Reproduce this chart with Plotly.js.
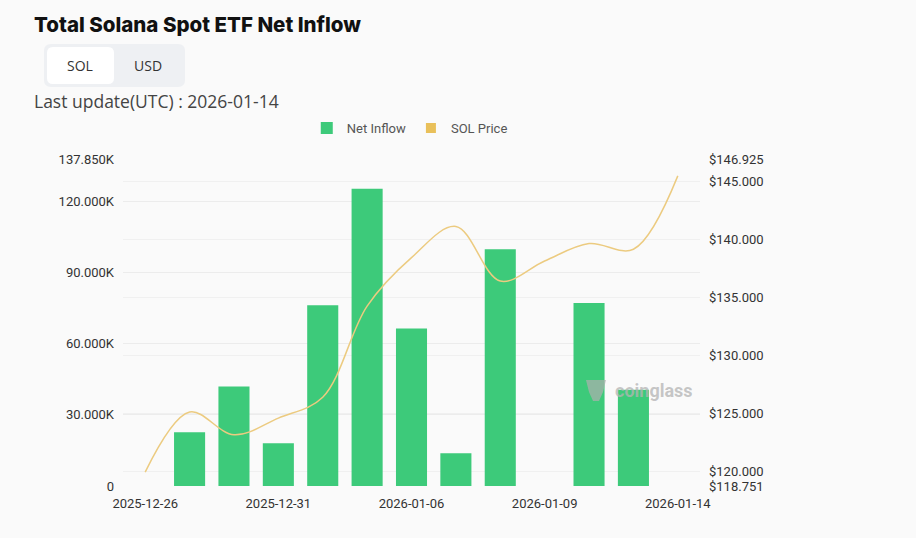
<!DOCTYPE html>
<html><head><meta charset="utf-8">
<script src="https://cdn.plot.ly/plotly-3.0.1.min.js"></script>
<style>html,body{margin:0;padding:0;background:#fafafa;}#chart{width:916px;height:538px;}</style>
</head><body><div id="chart"></div>
<script>
const dates = ['2025-12-26','2025-12-29','2025-12-30','2025-12-31','2026-01-02','2026-01-05','2026-01-06','2026-01-07','2026-01-08','2026-01-09','2026-01-12','2026-01-13','2026-01-14'];
const netInflow = [0, 22700, 41900, 18000, 76200, 125318, 66400, 13800, 99800, 0, 77100, 40600, 0];
const solPrice = [119.95, 125.12, 123.16, 124.6, 126.4, 134.25, 138.43, 141.11, 136.41, 138.14, 139.64, 139.15, 145.47];
const xTickVals = ['2025-12-26','2025-12-31','2026-01-06','2026-01-09','2026-01-14'];
const leftTickVals = [0, 30000, 60000, 90000, 120000, 137850];
const leftTickText = ['0','30.000K','60.000K','90.000K','120.000K','137.850K'];
const rightTickVals = [118.751, 120, 125, 130, 135, 140, 145, 146.925];
const rightTickText = ['$118.751','$120.000','$125.000','$130.000','$135.000','$140.000','$145.000','$146.925'];

// pixel -> paper helpers (plot area: x 123..700, y 159..486)
const L = 123, R = 700, T = 159, B = 486;
const px = v => (v - L) / (R - L);
const py = v => (B - v) / (B - T);
function roundRect(x0, y0, x1, y1, r) {
  const P = (x, y) => px(x).toFixed(5) + ',' + py(y).toFixed(5);
  return 'M' + P(x0 + r, y0) + ' L' + P(x1 - r, y0) + ' Q' + P(x1, y0) + ' ' + P(x1, y0 + r) +
         ' L' + P(x1, y1 - r) + ' Q' + P(x1, y1) + ' ' + P(x1 - r, y1) +
         ' L' + P(x0 + r, y1) + ' Q' + P(x0, y1) + ' ' + P(x0, y1 - r) +
         ' L' + P(x0, y0 + r) + ' Q' + P(x0, y0) + ' ' + P(x0 + r, y0) + ' Z';
}

const tickFont = {family: 'Roboto, sans-serif', size: 13, color: '#333'};

const traces = [
  {type: 'bar', name: 'Net Inflow', x: dates, y: netInflow,
   marker: {color: '#3dca7a'}, hoverinfo: 'x+y'},
  {type: 'scatter', mode: 'lines', name: 'SOL Price', x: dates, y: solPrice, yaxis: 'y2',
   line: {color: '#eccb80', width: 1.5, shape: 'spline', smoothing: 1}, showlegend: false},
  {type: 'scatter', mode: 'markers', name: 'SOL Price', x: [null], y: [null], yaxis: 'y2',
   marker: {symbol: 'square', size: 10, color: '#e9c05a'}}
];

const layout = {
  width: 916, height: 538, autosize: false,
  paper_bgcolor: '#fafafa', plot_bgcolor: '#fafafa',
  margin: {l: L, r: 916 - R, t: T, b: 538 - B, pad: 0},
  bargap: 0.3,
  showlegend: true,
  legend: {orientation: 'h', x: 0.497, xanchor: 'center', y: py(128), yanchor: 'middle',
           font: {family: 'Roboto, sans-serif', size: 13, color: '#555'}, bgcolor: 'rgba(0,0,0,0)',
           itemwidth: 30},
  xaxis: {type: 'category', tickmode: 'array', tickvals: xTickVals, ticktext: xTickVals,
          showgrid: false, zeroline: false, showline: false, ticks: '', ticklabelstandoff: 8,
          tickfont: tickFont, fixedrange: true},
  yaxis: {range: [0, 137850], tickmode: 'array', tickvals: leftTickVals, ticktext: leftTickText,
          showgrid: true, gridcolor: '#ececec', gridwidth: 1, zeroline: false, showline: false,
          ticks: '', ticklabelstandoff: 8, tickfont: tickFont, fixedrange: true},
  yaxis2: {overlaying: 'y', side: 'right', range: [118.751, 146.925], tickmode: 'array',
           tickvals: rightTickVals, ticktext: rightTickText, showgrid: true, gridcolor: '#f0f0f0',
           zeroline: false, showline: false, ticks: '', ticklabelstandoff: 8, tickfont: tickFont, fixedrange: true},
  shapes: [
    {type: 'path', xref: 'paper', yref: 'paper', path: roundRect(44, 44, 185, 87, 7),
     fillcolor: '#eef0f3', line: {width: 0}, layer: 'below'},
    {type: 'path', xref: 'paper', yref: 'paper', path: roundRect(47, 47, 114, 84, 6),
     fillcolor: '#ffffff', line: {width: 0}, layer: 'below'},
    {type: 'path', xref: 'paper', yref: 'paper',
     path: 'M' + px(586) + ',' + py(380) + ' L' + px(606) + ',' + py(380) + ' L' + px(603) + ',' + py(392) +
           ' L' + px(599) + ',' + py(401) + ' L' + px(593) + ',' + py(401) + ' L' + px(589) + ',' + py(392) + ' Z',
     fillcolor: 'rgba(175,175,175,0.7)', line: {width: 0}, layer: 'above'}
  ],
  annotations: [
    {text: 'Total Solana Spot ETF Net Inflow', xref: 'paper', yref: 'paper', x: px(32), y: py(25),
     xanchor: 'left', yanchor: 'middle', showarrow: false,
     font: {family: 'Inter, sans-serif', size: 20.5, weight: 800, color: '#111'}},
    {text: 'SOL', xref: 'paper', yref: 'paper', x: px(80), y: py(66), xanchor: 'center', yanchor: 'middle',
     showarrow: false, font: {family: 'Open Sans, sans-serif', size: 14, color: '#333'}},
    {text: 'USD', xref: 'paper', yref: 'paper', x: px(148), y: py(66), xanchor: 'center', yanchor: 'middle',
     showarrow: false, font: {family: 'Open Sans, sans-serif', size: 14, color: '#333'}},
    {text: 'Last update(UTC) : 2026-01-14', xref: 'paper', yref: 'paper', x: px(32), y: py(101),
     xanchor: 'left', yanchor: 'middle', showarrow: false,
     font: {family: 'Open Sans, sans-serif', size: 17.5, color: '#444'}},
    {text: '<b>coinglass</b>', xref: 'paper', yref: 'paper', x: px(613), y: py(390),
     xanchor: 'left', yanchor: 'middle', showarrow: false,
     font: {family: 'Roboto, sans-serif', size: 18, color: 'rgba(180,180,180,0.75)'}}
  ]
};

Plotly.newPlot('chart', traces, layout, {displayModeBar: false, staticPlot: true});
</script></body></html>
